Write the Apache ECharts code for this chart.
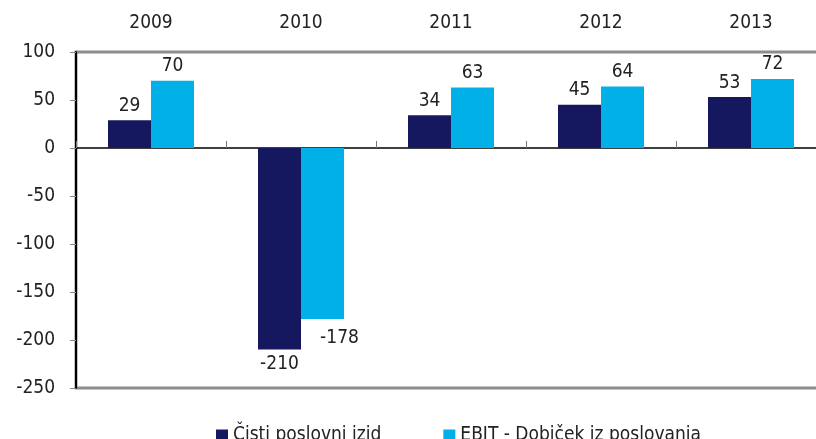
<!DOCTYPE html>
<html>
  <head>
    <meta charset="utf-8" />
    <script src="https://cdn.jsdelivr.net/npm/echarts@6/dist/echarts.min.js"></script>
  </head>
  <body style="margin:0">
    <div id="main" style="width: 816px;height:439px;"></div>
    <script type="text/javascript">
      var years = ['2009', '2010', '2011', '2012', '2013'];
      var cistiIzid = [29, -210, 34, 45, 53];
      var ebit = [70, -178, 63, 64, 72];
      var seriesNames = ['Čisti poslovni izid', 'EBIT - Dobiček iz poslovanja'];

      var font = '"DejaVu Sans Condensed", sans-serif';
      var myChart = echarts.init(document.getElementById('main'));

      // negativni EBIT label je desno spodaj
      var ebitData = ebit.map(function (v) {
        if (v < 0) {
          return { value: v, label: { position: 'bottom', offset: [17, 5] } };
        }
        return v;
      });

      var option = {
        animation: false,
        textStyle: { fontFamily: font },
        grid: {
          left: 76, top: 52, width: 750, height: 336,
          outerBoundsMode: 'none',
          show: true, borderColor: '#8c8c8c', borderWidth: 3
        },
        legend: {
          left: 211, top: 421,
          itemWidth: 12, itemHeight: 12, itemGap: 62,
          icon: 'rect',
          textStyle: { fontSize: 19, color: '#222', fontFamily: font },
          data: seriesNames
        },
        xAxis: [
          {
            type: 'category', data: years, position: 'top',
            axisLine: { show: false, onZero: false }, axisTick: { show: false },
            axisLabel: { fontSize: 19, color: '#222', margin: 19 }
          },
          {
            type: 'category', data: years, position: 'bottom',
            axisLine: { show: true, onZero: true, lineStyle: { color: '#000', width: 1.5 } },
            axisTick: { show: true, inside: true, length: 7, lineStyle: { color: '#777', width: 1 } },
            axisLabel: { show: false }
          }
        ],
        yAxis: {
          type: 'value', min: -250, max: 100, interval: 50,
          axisLine: { show: true, lineStyle: { color: '#000', width: 2 } },
          axisTick: { show: true, length: 6, lineStyle: { color: '#888' } },
          axisLabel: { fontSize: 19, color: '#222', margin: 21 },
          splitLine: { show: false }
        },
        series: [
          {
            name: seriesNames[0], type: 'bar', data: cistiIzid, xAxisIndex: 1,
            barWidth: 43, barGap: '0%',
            itemStyle: { color: '#16185f' },
            label: { show: true, position: 'outside', fontSize: 19, color: '#222', distance: 5 }
          },
          {
            name: seriesNames[1], type: 'bar', data: ebitData, xAxisIndex: 1,
            barWidth: 43, barGap: '0%',
            itemStyle: { color: '#00b0e6' },
            label: { show: true, position: 'outside', fontSize: 19, color: '#222', distance: 5 }
          }
        ]
      };
      myChart.setOption(option);
    </script>
  </body>
</html>
